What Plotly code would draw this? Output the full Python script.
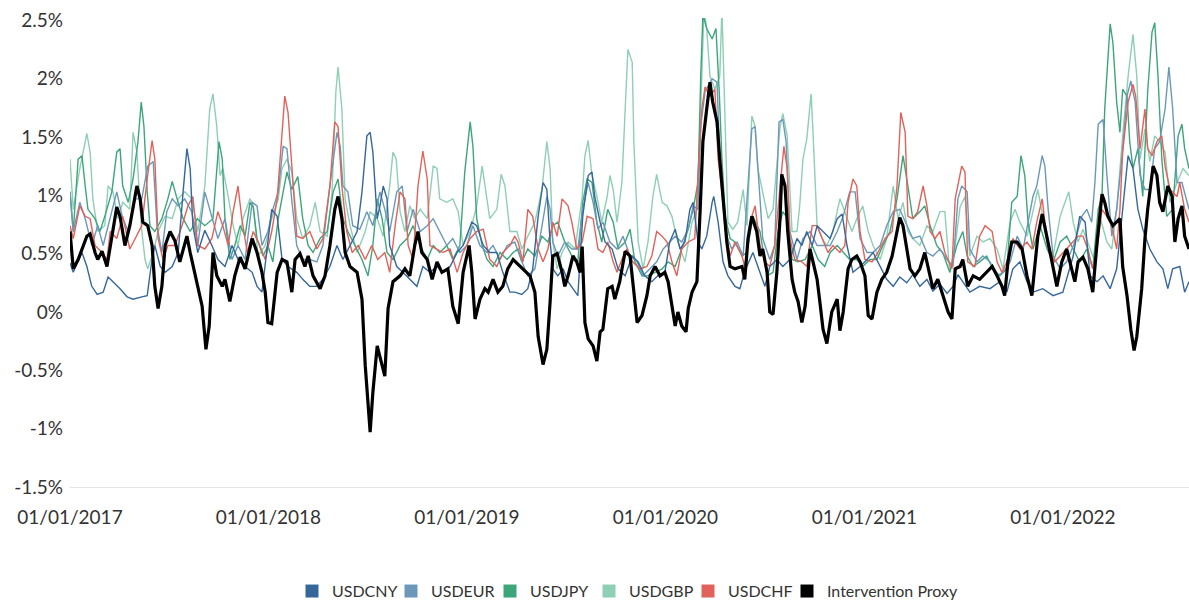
import pandas as pd
import plotly.graph_objects as go

START = "2017-01-01"
END = "2022-08-21"

# (days since START, value in %)
usdcny = [(0,0.42),(6,0.34),(22,0.51),(31,0.39),(40,0.22),(50,0.15),(61,0.17),(70,0.30),(79,0.26),(92,0.20),
(105,0.13),(116,0.11),(132,0.13),(142,0.14),(149,0.39),(156,0.57),(166,0.39),(175,0.34),(188,0.39),(199,0.51),
(208,1.03),(215,1.40),(221,1.23),(226,0.74),(235,0.51),(248,0.70),(261,0.57),(272,0.45),(285,0.39),(298,0.57),
(309,0.45),(322,0.39),(335,0.34),(344,0.22),(353,0.17),(364,0.63),(371,0.88),(381,0.82),(390,0.45),(401,0.39),
(417,0.34),(428,0.28),(441,0.22),(454,0.22),(465,0.28),(478,0.39),(491,0.57),(502,0.45),(515,0.57),
(528,0.69),(537,1.03),(546,1.51),(552,1.54),(557,1.37),(565,0.80),(570,0.91),(576,1.08),(583,0.97),(588,0.57),
(601,0.39),(612,0.34),(625,0.28),(638,0.22),(649,0.39),(662,0.34),(675,0.39),(686,0.34),(699,0.39),(712,0.51),
(723,0.57),(739,0.77),(748,0.74),(760,0.57),(772,0.51),(785,0.51),(796,0.34),(809,0.17),(818,0.17),(831,0.15),
(842,0.20),(851,0.37),(861,0.82),(870,1.11),(877,1.05),(883,0.60),(888,0.37),(897,0.31),(907,0.37),(916,0.26),
(925,0.20),(934,0.14),(943,0.82),(953,1.17),(960,1.20),(965,0.99),(975,0.77),(984,0.60),(997,0.54),(1008,0.37),
(1021,0.31),(1034,0.48),(1045,0.43),(1057,0.31),(1070,0.26),(1081,0.31),(1094,0.34),(1103,0.60),(1113,0.71),(1122,0.54),
(1131,0.60),(1140,0.88),(1146,0.94),(1155,0.60),(1162,0.54),(1171,0.65),(1181,0.94),(1184,0.99),(1192,0.77),(1201,0.43),
(1210,0.31),(1223,0.22),(1232,0.20),(1241,0.35),(1256,0.51),(1269,0.34),(1278,0.22),(1287,0.39),(1300,0.45),(1311,0.39),
(1324,0.45),(1337,0.63),(1346,0.57),(1355,0.69),(1365,0.57),(1374,0.74),(1385,0.69),(1398,0.63),(1411,0.80),(1420,0.84),
(1429,0.57),(1440,0.34),(1453,0.39),(1466,0.45),(1477,0.51),(1490,0.39),(1502,0.28),(1514,0.22),(1526,0.30),(1539,0.25),
(1550,0.32),(1563,0.22),(1576,0.28),(1587,0.18),(1600,0.24),(1613,0.16),(1624,0.22),(1633,0.32),(1642,0.26),(1655,0.17),
(1673,0.22),(1692,0.20),(1710,0.26),(1723,0.17),(1734,0.37),(1747,0.43),(1760,0.26),(1771,0.17),(1789,0.20),(1808,0.14),
(1826,0.17),(1845,0.48),(1857,0.82),(1867,0.77),(1876,0.31),(1889,0.26),(1900,0.31),(1913,0.20),(1925,0.37),(1936,0.88),
(1946,1.34),(1955,1.23),(1964,0.88),(1973,0.71),(1986,0.54),(1999,0.43),(2010,0.37),(2019,0.20),(2028,0.37),(2041,0.39),
(2050,0.17),(2058,0.26)]

usdeur = [(0,1.03),(6,0.69),(18,0.94),(28,0.80),(40,0.57),(51,0.74),(61,0.57),(74,0.80),(86,1.03),(96,0.82),
(107,0.69),(120,0.97),(132,0.97),(143,1.25),(153,1.29),(160,0.74),(169,0.51),(178,0.86),(188,0.97),(199,0.91),
(211,0.97),(224,0.86),(235,0.57),(248,1.03),(261,0.82),(272,0.63),(285,0.80),(298,0.45),(309,0.57),(322,0.45),
(335,0.94),(344,0.91),(353,0.57),(364,0.69),(373,0.88),(383,1.03),(392,1.42),(399,1.40),(408,0.95),(417,0.57),
(428,0.45),(441,0.45),(454,0.43),(465,0.57),(478,1.08),(491,1.54),(497,1.42),(502,1.08),(511,1.03),(520,0.74),
(533,0.71),(546,0.86),(557,0.74),(570,1.03),(579,0.88),(588,0.69),(601,1.03),(611,1.08),(620,0.69),(631,0.88),
(644,0.69),(657,0.74),(668,0.80),(680,0.69),(693,0.57),(704,0.63),(717,0.51),(730,0.57),(741,0.74),(754,0.57),
(767,0.51),(778,0.57),(791,0.45),(804,0.57),(818,0.60),(831,0.43),(842,0.31),(855,0.37),(868,0.74),(877,0.99),
(883,0.88),(888,0.60),(897,0.48),(910,0.60),(923,0.54),(934,0.54),(943,0.88),(953,1.11),(962,0.94),(971,0.71),
(980,0.77),(993,0.60),(1006,0.54),(1017,0.65),(1030,0.48),(1043,0.43),(1054,0.31),(1067,0.37),(1079,0.43),(1091,0.54),
(1103,0.60),(1113,0.65),(1125,0.60),(1137,0.71),(1146,0.91),(1155,0.88),(1160,1.59),(1168,1.89),(1181,2.00),(1190,1.97),
(1195,1.31),(1201,0.99),(1208,0.65),(1217,0.54),(1227,0.60),(1238,0.48),(1245,0.97),(1254,1.57),(1260,1.59),(1265,1.23),
(1274,0.63),(1287,0.45),(1296,0.57),(1304,1.63),(1311,1.65),(1317,1.46),(1324,0.69),(1337,0.45),(1348,0.63),(1361,0.69),
(1374,0.57),(1385,0.57),(1398,0.57),(1411,0.69),(1422,0.82),(1434,1.03),(1444,1.03),(1453,0.63),(1466,0.51),(1477,0.51),
(1490,0.57),(1502,0.74),(1514,0.86),(1526,0.88),(1539,0.74),(1550,0.63),(1563,0.65),(1576,0.51),(1587,0.48),(1600,0.54),
(1613,0.45),(1624,0.39),(1633,0.97),(1640,1.08),(1650,1.03),(1655,0.54),(1668,0.43),(1679,0.48),(1692,0.43),(1705,0.31),
(1716,0.34),(1729,0.43),(1742,0.65),(1753,0.54),(1762,0.77),(1771,0.99),(1778,1.08),(1788,1.34),(1793,1.25),(1799,0.88),
(1808,0.48),(1821,0.37),(1833,0.43),(1848,0.60),(1861,0.82),(1870,0.88),(1879,0.77),(1885,1.11),(1891,1.61),(1900,1.65),
(1907,1.17),(1916,0.65),(1925,0.88),(1935,1.34),(1944,1.85),(1951,1.98),(1959,1.80),(1968,1.17),(1977,1.05),(1986,1.05),
(1995,1.40),(2004,1.46),(2014,1.74),(2021,2.10),(2028,1.74),(2036,1.11),(2045,1.11),(2058,0.88)]

usdjpy = [(0,1.03),(6,0.69),(15,1.31),(22,1.34),(28,1.08),(33,0.88),(46,0.80),(55,0.69),(64,0.82),(77,1.03),
(86,1.37),(92,1.40),(97,1.08),(107,0.94),(116,1.14),(125,1.46),(131,1.80),(136,1.59),(142,1.03),(147,0.74),
(156,0.69),(169,0.80),(180,0.97),(188,1.12),(197,0.97),(208,0.80),(221,0.69),(234,0.80),(248,0.74),(263,0.80),
(274,1.46),(280,1.31),(285,0.80),(294,0.45),(303,0.57),(313,0.74),(322,0.65),(331,0.94),(337,0.90),(344,0.63),
(355,0.48),(364,0.57),(373,0.43),(383,0.80),(392,1.03),(399,1.20),(408,1.05),(419,1.16),(428,0.80),(438,0.57),
(447,0.51),(460,0.63),(473,0.69),(484,1.03),(493,1.14),(502,0.80),(511,0.69),(524,0.57),(537,0.45),(548,0.31),
(557,0.57),(565,0.97),(574,0.80),(583,0.51),(594,0.45),(607,0.57),(620,0.63),(631,0.74),(644,0.57),(657,0.45),
(668,0.57),(680,0.51),(693,0.57),(704,0.45),(717,0.57),(726,1.20),(736,1.63),(741,1.42),(748,0.80),(758,0.57),
(767,0.45),(778,0.39),(791,0.51),(804,0.45),(815,0.51),(824,0.54),(831,0.43),(842,0.54),(855,0.48),(868,0.65),
(879,0.60),(888,0.74),(897,0.77),(910,0.60),(923,0.48),(934,0.43),(943,0.94),(951,1.14),(960,1.11),(969,0.77),
(978,0.60),(989,0.88),(999,0.77),(1008,0.54),(1021,0.60),(1030,0.71),(1039,0.43),(1052,0.31),(1063,0.31),(1076,0.34),
(1089,0.37),(1100,0.43),(1113,0.39),(1125,0.54),(1137,0.71),(1146,0.88),(1155,1.11),(1160,2.02),(1164,2.55),(1171,2.43),
(1181,2.34),(1188,2.43),(1194,1.89),(1199,1.31),(1205,0.82),(1214,0.63),(1223,0.60),(1236,0.48),(1245,0.51),(1256,0.82),
(1269,0.69),(1282,0.31),(1293,0.34),(1302,0.69),(1311,0.86),(1320,0.80),(1328,0.45),(1339,0.43),(1352,0.45),(1365,0.57),
(1376,0.45),(1388,0.39),(1398,0.51),(1411,0.57),(1422,0.51),(1434,0.45),(1447,0.45),(1458,0.39),(1471,0.45),(1484,0.45),
(1495,0.57),(1508,0.69),(1521,0.97),(1532,1.34),(1541,1.08),(1550,0.80),(1563,0.86),(1572,0.91),(1582,0.74),(1594,0.57),
(1605,0.51),(1618,0.34),(1631,0.57),(1642,0.69),(1650,0.48),(1661,0.39),(1673,0.43),(1686,0.48),(1697,0.37),(1710,0.31),
(1723,0.37),(1732,0.94),(1742,0.99),(1749,1.34),(1756,1.17),(1762,0.77),(1771,0.54),(1784,0.74),(1797,0.54),(1808,0.43),
(1821,0.60),(1833,0.65),(1845,0.54),(1857,0.43),(1870,0.54),(1881,0.37),(1891,0.88),(1898,0.99),(1903,1.74),(1913,2.47),
(1918,2.31),(1925,1.80),(1931,1.54),(1936,1.91),(1944,1.85),(1949,1.46),(1955,1.23),(1964,1.40),(1973,0.99),(1982,1.89),
(1990,2.40),(1995,2.48),(2001,2.02),(2008,1.31),(2017,0.82),(2028,0.88),(2038,1.51),(2045,1.61),(2050,1.40),(2058,1.23)]

usdgbp = [(0,1.31),(6,0.88),(18,1.23),(31,1.53),(37,1.37),(42,0.97),(51,0.69),(64,0.74),(70,1.08),(79,1.03),
(88,0.80),(97,0.94),(110,0.88),(116,1.54),(123,1.37),(131,0.74),(138,0.45),(143,0.37),(153,0.51),(162,0.69),
(175,0.82),(188,0.80),(199,0.97),(211,1.03),(224,0.97),(235,0.69),(248,1.08),(257,1.74),(263,1.87),(270,1.59),
(276,1.17),(281,1.23),(291,0.99),(300,0.74),(309,0.57),(318,0.80),(331,0.97),(337,0.91),(346,0.48),(359,0.57),
(371,0.80),(383,0.97),(390,1.23),(399,1.31),(408,1.20),(417,0.80),(428,0.63),(441,0.74),(451,0.94),(460,0.69),
(473,0.65),(482,1.03),(489,1.89),(493,2.10),(500,1.74),(506,0.97),(515,0.74),(528,0.51),(543,0.69),(552,0.86),
(565,0.80),(576,0.65),(588,1.08),(594,1.37),(600,1.31),(607,0.86),(616,0.69),(625,0.91),(634,0.80),(644,0.88),
(657,0.80),(668,1.25),(675,1.23),(680,0.97),(693,0.94),(704,0.97),(714,0.86),(723,0.57),(736,0.69),(748,0.91),
(758,1.25),(763,1.08),(772,0.80),(785,0.88),(793,1.18),(800,1.08),(809,0.69),(822,0.69),(831,0.54),(842,0.65),
(855,0.77),(868,1.05),(877,1.46),(883,1.23),(888,0.60),(896,0.37),(905,0.51),(916,0.60),(929,0.54),(942,0.99),
(947,1.34),(953,1.47),(960,1.17),(969,0.99),(978,0.77),(988,0.99),(993,1.17),(999,1.05),(1006,0.77),(1015,1.11),
(1022,1.80),(1026,2.25),(1034,2.14),(1037,1.46),(1045,0.60),(1054,0.37),(1063,0.60),(1072,0.99),(1079,1.18),(1089,0.94),
(1098,0.91),(1107,0.82),(1118,0.60),(1131,0.43),(1144,0.77),(1153,0.88),(1160,1.74),(1166,2.60),(1171,2.43),(1177,2.02),
(1186,1.91),(1195,2.02),(1199,2.60),(1205,1.46),(1210,0.77),(1219,0.71),(1228,0.77),(1238,1.05),(1245,0.74),(1254,1.68),
(1260,1.59),(1265,1.23),(1274,1.03),(1284,0.80),(1293,0.88),(1306,1.59),(1311,1.70),(1319,1.51),(1328,0.69),(1337,0.69),
(1342,0.91),(1348,1.31),(1355,1.48),(1363,1.87),(1366,1.59),(1374,0.74),(1383,0.63),(1392,0.57),(1403,0.69),(1416,0.97),
(1425,0.86),(1438,0.69),(1447,0.80),(1458,0.91),(1468,0.69),(1477,0.57),(1490,0.45),(1502,0.63),(1514,1.08),(1523,0.80),
(1532,0.94),(1541,0.69),(1550,0.63),(1563,0.57),(1576,0.74),(1587,0.69),(1600,0.86),(1609,0.86),(1618,0.34),(1628,0.57),
(1637,0.90),(1646,0.99),(1655,0.48),(1668,0.65),(1679,0.60),(1692,0.63),(1705,0.54),(1716,0.37),(1729,0.77),(1738,0.88),
(1747,0.77),(1760,0.65),(1769,0.82),(1780,1.05),(1789,0.82),(1799,0.54),(1808,0.48),(1821,0.82),(1830,0.94),(1837,1.03),
(1845,0.77),(1854,0.60),(1863,0.71),(1876,0.54),(1885,0.43),(1894,0.82),(1907,0.60),(1916,0.54),(1925,0.88),(1936,1.51),
(1946,2.02),(1955,2.38),(1962,2.02),(1968,1.31),(1977,1.57),(1986,1.29),(1995,1.51),(2004,1.46),(2014,1.37),(2023,0.94),
(2036,1.11),(2047,1.23),(2058,1.17)]

usdchf = [(0,0.74),(6,0.63),(18,0.91),(28,0.82),(37,0.80),(46,0.57),(59,0.51),(68,0.45),(74,0.69),(86,0.63),
(97,0.82),(110,0.54),(120,0.63),(132,0.74),(142,1.14),(151,1.47),(156,1.31),(162,0.63),(171,0.45),(180,0.57),
(193,0.57),(206,0.74),(217,0.91),(226,0.99),(235,0.57),(248,0.54),(261,0.63),(272,0.86),(281,0.74),(291,0.57),
(300,0.86),(309,1.08),(316,0.80),(326,0.51),(337,0.69),(349,0.57),(359,0.45),(371,0.69),(381,0.97),(386,1.31),
(395,1.85),(401,1.71),(406,1.40),(412,1.00),(417,0.65),(428,0.63),(441,0.69),(454,0.54),(465,0.63),(478,1.08),
(487,1.63),(493,1.59),(500,1.08),(509,0.69),(519,0.51),(530,0.57),(543,0.45),(555,0.57),(566,0.45),(579,0.51),
(588,0.34),(598,0.74),(607,1.03),(616,0.97),(622,0.57),(631,0.45),(640,1.08),(649,1.38),(657,1.14),(662,0.57),
(675,0.54),(686,0.51),(699,0.54),(712,0.34),(723,0.51),(736,0.63),(748,0.69),(760,0.71),(772,0.45),(785,0.39),
(796,0.51),(809,0.57),(818,0.65),(824,0.60),(833,0.43),(842,0.88),(851,0.82),(861,0.54),(870,0.43),(879,0.54),
(888,0.77),(896,0.65),(905,0.97),(916,0.91),(923,0.77),(932,0.54),(942,0.60),(951,0.82),(962,0.80),(971,0.54),
(980,0.51),(989,0.60),(999,0.43),(1006,0.34),(1015,0.45),(1024,0.54),(1035,0.43),(1048,0.37),(1061,0.39),(1070,0.48),
(1079,0.69),(1089,0.65),(1098,0.60),(1107,0.43),(1116,0.31),(1125,0.54),(1137,0.60),(1149,0.63),(1155,1.17),(1162,1.74),
(1168,1.93),(1177,1.85),(1186,1.91),(1192,1.31),(1199,1.03),(1205,0.71),(1214,0.48),(1223,0.60),(1236,0.48),(1241,0.39),
(1254,0.82),(1260,0.91),(1269,0.57),(1278,0.43),(1287,0.39),(1296,0.57),(1306,1.08),(1313,1.42),(1319,1.23),(1324,0.63),
(1333,0.45),(1346,0.43),(1355,0.39),(1365,0.74),(1374,0.74),(1383,0.63),(1394,0.51),(1403,0.57),(1416,0.51),(1425,0.57),
(1431,0.94),(1440,1.14),(1447,1.08),(1453,0.69),(1462,0.45),(1475,0.43),(1486,0.51),(1499,0.63),(1512,0.69),(1521,1.08),
(1528,1.71),(1536,1.54),(1541,0.82),(1550,0.80),(1559,0.86),(1569,1.08),(1576,0.91),(1582,0.69),(1591,0.63),(1600,0.69),
(1609,0.51),(1622,0.37),(1628,0.97),(1640,1.25),(1646,1.20),(1651,0.43),(1664,0.39),(1673,0.65),(1683,0.74),(1696,0.69),
(1705,0.43),(1714,0.34),(1723,0.43),(1734,0.63),(1747,0.54),(1760,0.60),(1769,0.54),(1778,0.77),(1788,0.97),(1793,0.77),
(1802,0.54),(1811,0.43),(1821,0.48),(1833,0.54),(1845,0.60),(1854,0.65),(1863,0.65),(1872,0.54),(1881,0.37),(1889,0.54),
(1898,0.88),(1907,0.82),(1916,0.74),(1925,0.54),(1931,0.88),(1936,1.37),(1946,1.80),(1955,1.95),(1960,1.85),(1968,1.40),
(1977,1.74),(1982,1.40),(1990,1.34),(1999,1.46),(2008,1.51),(2014,1.25),(2023,1.05),(2036,0.99),(2041,1.11),(2050,0.88),
(2058,0.77)]

intervention_proxy = [(0,0.69),(6,0.37),(15,0.45),(31,0.65),(37,0.67),(46,0.51),(51,0.45),(59,0.52),(68,0.39),(77,0.65),
(86,0.90),(92,0.82),(101,0.57),(110,0.74),(123,1.08),(129,0.97),(134,0.77),(143,0.74),(151,0.57),(156,0.22),
(162,0.03),(169,0.22),(175,0.57),(184,0.69),(193,0.61),(202,0.43),(215,0.65),(221,0.51),(234,0.22),(243,0.05),
(250,-0.32),(256,-0.12),(263,0.51),(270,0.31),(280,0.22),(285,0.28),(294,0.09),(303,0.31),(313,0.47),(322,0.37),
(335,0.63),(344,0.51),(353,0.34),(359,0.17),(364,-0.09),(371,-0.10),(381,0.34),(390,0.45),(399,0.43),(408,0.17),
(414,0.45),(423,0.50),(432,0.39),(438,0.48),(447,0.31),(460,0.20),(469,0.31),(478,0.57),(487,0.88),(493,0.99),
(500,0.80),(506,0.51),(515,0.39),(528,0.34),(537,0.11),(543,-0.46),(552,-1.03),(557,-0.69),(565,-0.29),(574,-0.46),
(579,-0.55),(585,0.03),(594,0.26),(607,0.31),(616,0.37),(625,0.31),(634,0.57),(640,0.69),(647,0.51),(657,0.45),
(666,0.28),(675,0.43),(684,0.34),(695,0.37),(704,0.05),(714,-0.10),(723,0.34),(734,0.57),(739,0.34),(745,-0.06),
(754,0.11),(763,0.20),(769,0.17),(778,0.28),(787,0.17),(796,0.22),(805,0.37),(815,0.45),(828,0.39),(846,0.31),
(855,0.17),(861,-0.21),(870,-0.45),(877,-0.32),(883,0.09),(888,0.48),(896,0.50),(905,0.34),(910,0.22),(916,0.31),
(925,0.48),(932,0.43),(938,0.34),(942,0.56),(947,-0.09),(953,-0.23),(962,-0.29),(969,-0.42),(975,-0.17),(980,-0.15),
(989,0.20),(997,0.22),(1002,0.11),(1011,0.26),(1021,0.52),(1030,0.48),(1035,0.26),(1043,-0.09),(1052,-0.03),(1061,0.14),
(1067,0.31),(1076,0.39),(1085,0.31),(1094,0.34),(1100,0.26),(1107,0.03),(1113,-0.12),(1118,0.00),(1125,-0.12),(1133,-0.17),
(1137,0.03),(1144,0.17),(1153,0.26),(1159,0.88),(1164,1.46),(1171,1.74),(1177,1.97),(1182,1.80),(1190,1.63),(1195,1.31),
(1201,0.99),(1208,0.60),(1214,0.39),(1223,0.37),(1236,0.39),(1241,0.28),(1247,0.63),(1254,0.82),(1263,0.69),(1269,0.48),
(1274,0.54),(1282,0.34),(1287,0.00),(1293,-0.02),(1300,0.34),(1306,0.82),(1309,1.18),(1315,1.08),(1320,0.69),(1328,0.28),
(1333,0.17),(1339,0.09),(1346,-0.09),(1352,0.05),(1361,0.54),(1366,0.45),(1374,0.28),(1379,0.09),(1385,-0.15),(1392,-0.27),
(1401,0.00),(1411,0.11),(1416,-0.16),(1422,0.00),(1431,0.37),(1438,0.45),(1447,0.48),(1453,0.43),(1462,0.31),(1468,-0.03),
(1475,-0.06),(1484,0.17),(1493,0.28),(1502,0.34),(1512,0.48),(1521,0.69),(1526,0.81),(1532,0.74),(1539,0.54),(1545,0.37),
(1554,0.31),(1563,0.37),(1572,0.51),(1582,0.31),(1587,0.20),(1596,0.28),(1605,0.14),(1615,0.00),(1622,-0.06),(1628,0.37),
(1637,0.39),(1642,0.45),(1651,0.22),(1661,0.31),(1673,0.28),(1686,0.34),(1696,0.39),(1705,0.31),(1714,0.22),(1719,0.14),
(1725,0.43),(1732,0.60),(1742,0.60),(1751,0.54),(1760,0.31),(1769,0.14),(1775,0.39),(1780,0.65),(1788,0.84),(1797,0.65),
(1806,0.43),(1815,0.22),(1824,0.43),(1833,0.54),(1839,0.43),(1848,0.26),(1854,0.43),(1863,0.47),(1872,0.37),(1881,0.17),
(1889,0.60),(1898,1.01),(1903,0.94),(1909,0.82),(1918,0.74),(1925,0.77),(1931,0.80),(1936,0.39),(1944,0.14),(1951,-0.15),
(1957,-0.33),(1962,-0.21),(1971,0.20),(1977,0.63),(1982,0.88),(1992,1.25),(1999,1.17),(2004,0.94),(2010,0.86),(2019,1.08),
(2027,0.99),(2032,0.60),(2038,0.80),(2045,0.91),(2050,0.65),(2058,0.54)]

series_names = ["USDCNY", "USDEUR", "USDJPY", "USDGBP", "USDCHF", "Intervention Proxy"]
series_data = [usdcny, usdeur, usdjpy, usdgbp, usdchf, intervention_proxy]
series_colors = ["#36679b", "#6b98b8", "#3da57a", "#8ecfb5", "#e0625a", "#000000"]
series_widths = [1.4, 1.4, 1.4, 1.4, 1.4, 3.2]
legend_widths = [54, 54, 54, 54, 54, 135]
draw_order = [3, 2, 1, 4, 0, 5]

y_tick_values = [-1.5, -1, -0.5, 0, 0.5, 1, 1.5, 2, 2.5]
y_tick_labels = ["-1.5%", "-1%", "-0.5%", "0%", "0.5%", "1%", "1.5%", "2%", "2.5%"]
x_tick_values = ["2017-01-01", "2018-01-01", "2019-01-01", "2020-01-01", "2021-01-01", "2022-01-01"]
x_tick_labels = ["01/01/2017", "01/01/2018", "01/01/2019", "01/01/2020", "01/01/2021", "01/01/2022"]

start = pd.Timestamp(START)
fig = go.Figure()

for i in draw_order:
    days = [d for d, _ in series_data[i]]
    vals = [v for _, v in series_data[i]]
    fig.add_trace(go.Scatter(
        x=start + pd.to_timedelta(days, unit="D"), y=vals, mode="lines",
        name=series_names[i], legendgroup=series_names[i], showlegend=False,
        line=dict(color=series_colors[i], width=series_widths[i]),
        hovertemplate="%{x|%d/%m/%Y}: %{y:.2f}%<extra>" + series_names[i] + "</extra>",
    ))

for i, name in enumerate(series_names):
    fig.add_trace(go.Scatter(
        x=[None], y=[None], mode="markers", name=name, legendgroup=name,
        marker=dict(symbol="square", size=13, color=series_colors[i]),
        legendwidth=legend_widths[i],
        showlegend=True, hoverinfo="skip",
    ))

font_family = "Lato, 'Open Sans', sans-serif"
fig.update_layout(
    width=1189, height=601,
    margin=dict(l=70, r=0, t=18, b=114, autoexpand=False),
    paper_bgcolor="white", plot_bgcolor="white",
    font=dict(family=font_family, color="#333333"),
    showlegend=True,
    legend=dict(
        orientation="h", x=0.5, xanchor="center", xref="paper",
        y=-0.222, yanchor="middle", yref="paper",
        font=dict(size=16, color="#333333"), itemwidth=30,
        entrywidthmode="pixels",
        tracegroupgap=0, bgcolor="rgba(0,0,0,0)",
    ),
    xaxis=dict(
        type="date", range=[START, END],
        tickvals=x_tick_values, ticktext=x_tick_labels,
        showgrid=False, zeroline=False,
        showline=True, linecolor="#e3e3e3", linewidth=1,
        ticks="", ticklabelstandoff=13,
        tickfont=dict(size=19, color="#333333"),
    ),
    yaxis=dict(
        range=[-1.5, 2.52],
        tickvals=y_tick_values, ticktext=y_tick_labels,
        showgrid=False, zeroline=False, showline=False,
        ticks="", ticklabelstandoff=6,
        tickfont=dict(size=19, color="#333333"),
    ),
)

fig.write_html(
    "out.html",
    config={"displayModeBar": False},
    post_script="document.body.style.margin='0';document.body.style.overflow='hidden';",
)
